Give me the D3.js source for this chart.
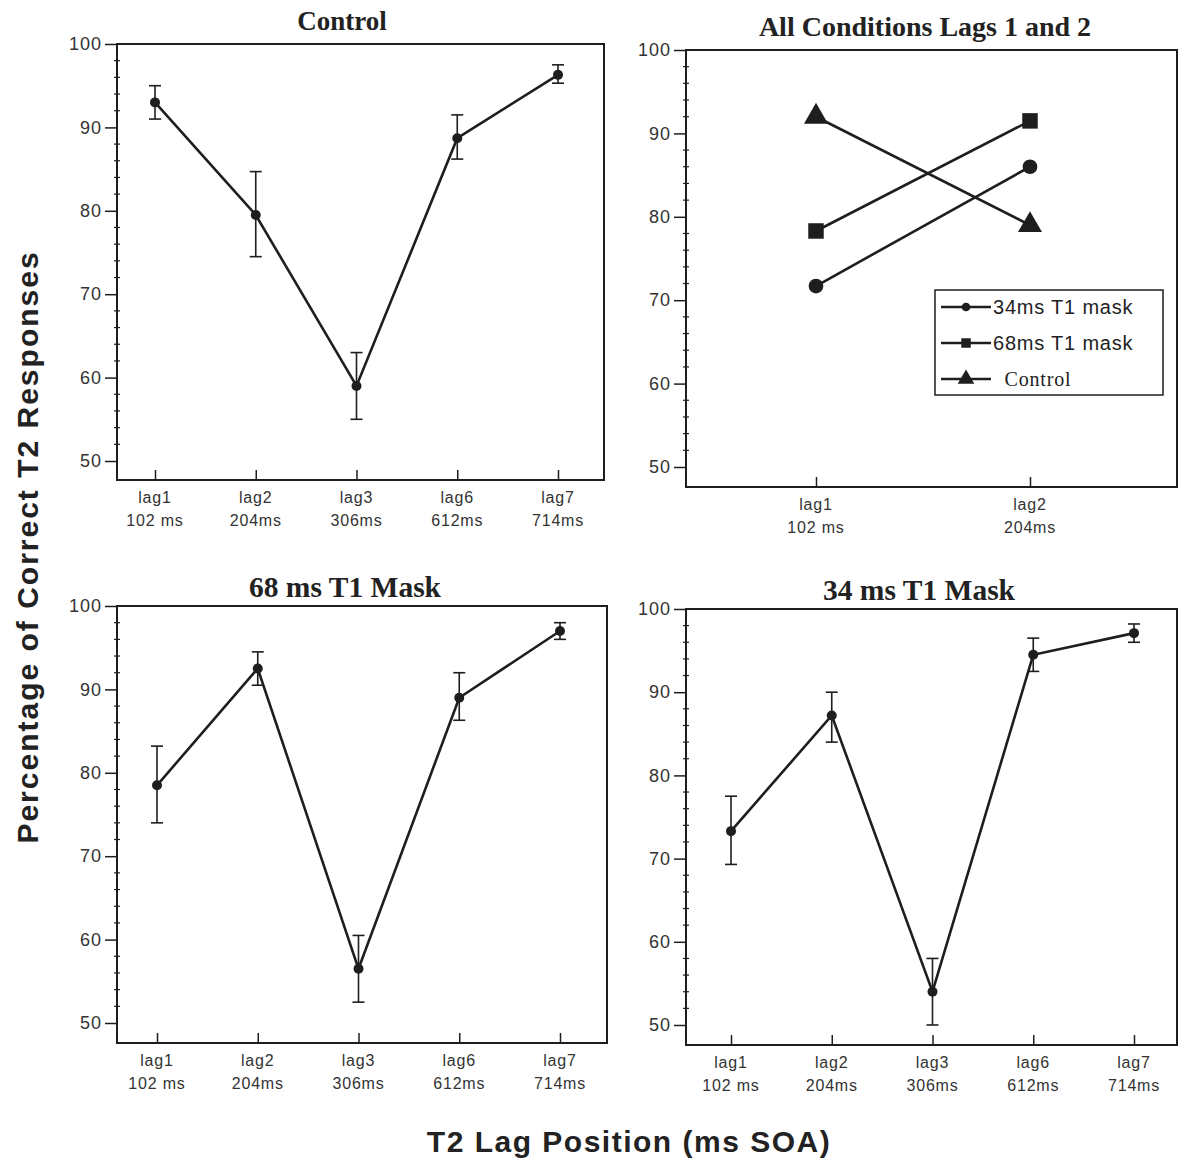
<!DOCTYPE html>
<html>
<head>
<meta charset="utf-8">
<script src="https://cdn.jsdelivr.net/npm/d3@7"></script>
<style>
  body { margin: 0; background: #fff; }
  .tick text { font-family: "Liberation Sans", Arial, sans-serif; fill: #333; }
  .title { font-family: "Liberation Serif", "Times New Roman", serif; font-weight: bold; fill: #222; }
</style>
</head>
<body>
<div id="container"></div>
<script>
// data
lags = ["lag1", "lag2", "lag3", "lag6", "lag7"];
soa = ["102 ms", "204ms", "306ms", "612ms", "714ms"];

controlMean = [93, 79.5, 59, 88.7, 96.3];
controlLow = [91, 74.5, 55, 86.2, 95.3];
controlHigh = [95, 84.7, 63, 91.5, 97.5];

mask68Mean = [78.5, 92.5, 56.5, 89, 97];
mask68Low = [74, 90.5, 52.5, 86.3, 96];
mask68High = [83.2, 94.5, 60.5, 92, 98];

mask34Mean = [73.3, 87.2, 54, 94.5, 97.1];
mask34Low = [69.3, 84, 50, 92.5, 96];
mask34High = [77.5, 90, 58, 96.5, 98.2];

// lags 1 and 2 only
lags12 = ["lag1", "lag2"];
soa12 = ["102 ms", "204ms"];
all34 = [71.7, 86];
all68 = [78.3, 91.5];
allControl = [92, 79];
legendNames = ["34ms T1 mask", "68ms T1 mask", "  Control"];

yTicks = [50, 60, 70, 80, 90, 100];
yMinor = d3.range(50, 100, 2);

const ink = "#1e1e1e";
const sans = "'Liberation Sans', Arial, sans-serif";

const svg = d3.select("#container").append("svg")
    .attr("width", 1179)
    .attr("height", 1168);

function panel(cfg) {
    const g = svg.append("g");
    const x = d3.scalePoint().domain(cfg.cats).range([cfg.left + cfg.padL, cfg.left + cfg.w - cfg.padR]);
    const y = d3.scaleLinear().domain([50, 100]).range([cfg.y50, cfg.top]);
    const bottom = cfg.top + cfg.h;

    // frame
    g.append("rect")
        .attr("x", cfg.left).attr("y", cfg.top)
        .attr("width", cfg.w).attr("height", cfg.h)
        .attr("fill", "none").attr("stroke", ink).attr("stroke-width", 2);

    // y axis
    const ya = g.append("g")
        .attr("transform", `translate(${cfg.left},0)`)
        .call(d3.axisLeft(y).tickValues(yTicks).tickSize(12).tickPadding(3));
    ya.select(".domain").remove();
    ya.selectAll("line").attr("stroke", ink).attr("stroke-width", 1.5);
    ya.selectAll("text").style("font-size", "18px").style("letter-spacing", "1px");

    g.append("g").selectAll("line")
        .data(yMinor.filter(v => yTicks.indexOf(v) < 0))
        .join("line")
        .attr("x1", cfg.left - 3).attr("x2", cfg.left + 3)
        .attr("y1", d => y(d)).attr("y2", d => y(d))
        .attr("stroke", ink).attr("stroke-width", 1.2);

    // x axis, ticks pointing in
    const xa = g.append("g")
        .attr("transform", `translate(0,${bottom})`)
        .call(d3.axisBottom(x).tickSize(-10).tickFormat(""));
    xa.select(".domain").remove();
    xa.selectAll("line").attr("stroke", ink).attr("stroke-width", 1.5);

    const lbl = g.append("g").selectAll("text")
        .data(cfg.cats)
        .join("text")
        .attr("text-anchor", "middle")
        .style("font-family", sans)
        .style("font-size", "16px")
        .style("letter-spacing", "0.8px")
        .attr("fill", "#333");
    lbl.append("tspan").attr("x", d => x(d)).attr("y", bottom + 23).text(d => d);
    lbl.append("tspan").attr("x", d => x(d)).attr("y", bottom + 46).text((d, i) => cfg.sub[i]);

    // title
    g.append("text")
        .attr("class", "title")
        .attr("x", cfg.titleX).attr("y", cfg.titleY)
        .attr("text-anchor", "middle")
        .style("font-size", cfg.titleSize + "px")
        .text(cfg.title);

    return { g, x, y };
}

function errorPanel(cfg, mean, low, high) {
    const p = panel(cfg);
    const pts = cfg.cats.map((c, i) => ({ c, m: mean[i], lo: low[i], hi: high[i] }));
    const line = d3.line().x(d => p.x(d.c)).y(d => p.y(d.m));

    p.g.append("path")
        .datum(pts)
        .attr("d", line)
        .attr("fill", "none").attr("stroke", ink).attr("stroke-width", 2.6);

    const eb = p.g.append("g").attr("stroke", ink).attr("stroke-width", 1.6);
    eb.selectAll(".v").data(pts).join("line")
        .attr("x1", d => p.x(d.c)).attr("x2", d => p.x(d.c))
        .attr("y1", d => p.y(d.lo)).attr("y2", d => p.y(d.hi));
    eb.selectAll(".t").data(pts).join("line")
        .attr("x1", d => p.x(d.c) - 6).attr("x2", d => p.x(d.c) + 6)
        .attr("y1", d => p.y(d.hi)).attr("y2", d => p.y(d.hi));
    eb.selectAll(".b").data(pts).join("line")
        .attr("x1", d => p.x(d.c) - 6).attr("x2", d => p.x(d.c) + 6)
        .attr("y1", d => p.y(d.lo)).attr("y2", d => p.y(d.lo));

    p.g.append("g").selectAll("circle").data(pts).join("circle")
        .attr("cx", d => p.x(d.c)).attr("cy", d => p.y(d.m))
        .attr("r", 5).attr("fill", ink);
}

errorPanel({
    cats: lags, sub: soa, left: 117, top: 44, w: 487, h: 436, y50: 461, padL: 38, padR: 46,
    title: "Control", titleX: 342, titleY: 30, titleSize: 27
}, controlMean, controlLow, controlHigh);

errorPanel({
    cats: lags, sub: soa, left: 117, top: 606, w: 490, h: 437, y50: 1023, padL: 40, padR: 47,
    title: "68 ms T1 Mask", titleX: 345, titleY: 597, titleSize: 29.5
}, mask68Mean, mask68Low, mask68High);

errorPanel({
    cats: lags, sub: soa, left: 686, top: 609, w: 491, h: 436, y50: 1025, padL: 45, padR: 43,
    title: "34 ms T1 Mask", titleX: 919, titleY: 600, titleSize: 29.5
}, mask34Mean, mask34Low, mask34High);

// All conditions panel
const pa = panel({
    cats: lags12, sub: soa12, left: 686, top: 50, w: 491, h: 437, y50: 467, padL: 130, padR: 147,
    title: "All Conditions Lags 1 and 2", titleX: 925, titleY: 36, titleSize: 28
});

const symbols = [d3.symbolCircle, d3.symbolSquare, d3.symbolTriangle];
const symSize = [170, 240, 250];
const series = [all34, all68, allControl];

series.forEach((vals, s) => {
    const pts = lags12.map((c, i) => ({ c, v: vals[i] }));
    pa.g.append("path")
        .datum(pts)
        .attr("d", d3.line().x(d => pa.x(d.c)).y(d => pa.y(d.v)))
        .attr("fill", "none").attr("stroke", ink).attr("stroke-width", 2.6);
    pa.g.append("g").selectAll("path").data(pts).join("path")
        .attr("transform", d => `translate(${pa.x(d.c)},${pa.y(d.v)})`)
        .attr("d", d3.symbol().type(symbols[s]).size(symSize[s]))
        .attr("fill", ink);
});

// legend
const lg = pa.g.append("g").attr("transform", "translate(935,290)");
lg.append("rect")
    .attr("width", 228).attr("height", 105)
    .attr("fill", "#fff").attr("stroke", ink).attr("stroke-width", 1.5);
legendNames.forEach((name, i) => {
    const yy = 17 + i * 36;
    lg.append("line")
        .attr("x1", 6).attr("x2", 56).attr("y1", yy).attr("y2", yy)
        .attr("stroke", ink).attr("stroke-width", 2.4);
    lg.append("path")
        .attr("transform", `translate(31,${yy})`)
        .attr("d", d3.symbol().type(symbols[i]).size([60, 90, 120][i]))
        .attr("fill", ink);
    lg.append("text")
        .attr("x", 58).attr("y", yy + 7)
        .style("font-family", i === 2 ? "'Liberation Serif', serif" : sans)
        .style("font-size", "20px")
        .style("letter-spacing", "0.8px")
        .attr("fill", "#222")
        .attr("xml:space", "preserve")
        .text(name);
});

// shared axis titles
svg.append("text")
    .attr("transform", "translate(38,547) rotate(-90)")
    .attr("text-anchor", "middle")
    .style("font-family", sans)
    .style("font-weight", "bold")
    .style("font-size", "30px")
    .style("letter-spacing", "2px")
    .attr("fill", "#222")
    .text("Percentage of Correct T2 Responses");

svg.append("text")
    .attr("x", 629).attr("y", 1152)
    .attr("text-anchor", "middle")
    .style("font-family", sans)
    .style("font-weight", "bold")
    .style("font-size", "30px")
    .style("letter-spacing", "1.5px")
    .attr("fill", "#222")
    .text("T2 Lag Position (ms SOA)");
</script>
</body>
</html>
